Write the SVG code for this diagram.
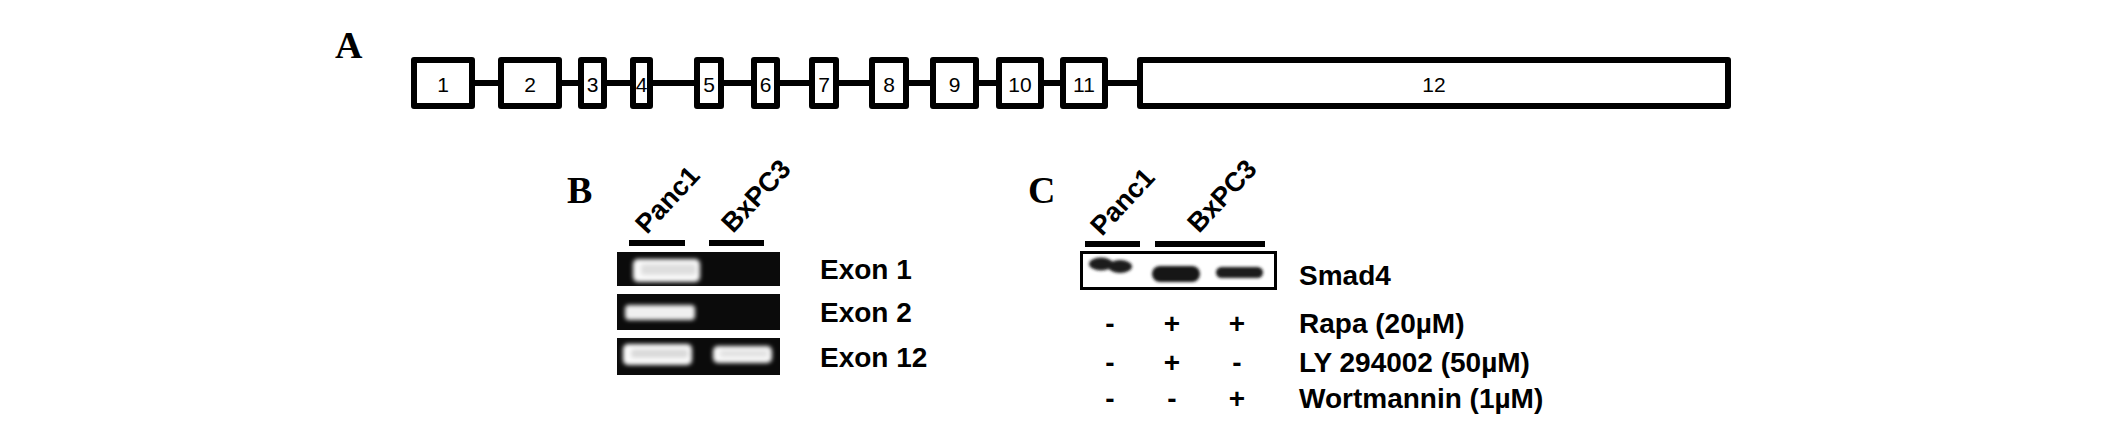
<svg xmlns="http://www.w3.org/2000/svg" width="2126" height="425" viewBox="0 0 2126 425">
<defs>
<style>
.exon{fill:#fff;stroke:#000;stroke-width:6;stroke-linejoin:round}
.intron{stroke:#000;stroke-width:6}
.num{font-family:"Liberation Sans",Arial,sans-serif;font-size:21px;text-anchor:middle;fill:#000}
.panel{font-family:"Liberation Serif","Times New Roman",serif;font-weight:bold;font-size:38px;fill:#000}
.lbl{font-family:"Liberation Sans",Arial,sans-serif;font-weight:bold;font-size:28px;fill:#000}
.rot{font-family:"Liberation Sans",Arial,sans-serif;font-weight:bold;font-size:27px;fill:#000}
.sign{font-family:"Liberation Sans",Arial,sans-serif;font-weight:bold;font-size:28px;fill:#000;text-anchor:middle}
.bar{fill:#000}
.gel{fill:#0b0b0b}
</style>
<filter id="blur" x="-30%" y="-60%" width="160%" height="220%"><feGaussianBlur stdDeviation="2"/></filter>
<filter id="blur2" x="-30%" y="-80%" width="160%" height="260%"><feGaussianBlur stdDeviation="1.8"/></filter>
</defs>
<rect width="2126" height="425" fill="#fff"/>

<g id="panelA">
<text class="panel" x="335" y="58">A</text>
<g id="connectors">
<line class="intron" x1="472" y1="83" x2="501" y2="83"/>
<line class="intron" x1="559" y1="83" x2="581" y2="83"/>
<line class="intron" x1="604" y1="83" x2="633" y2="83"/>
<line class="intron" x1="650" y1="83" x2="697" y2="83"/>
<line class="intron" x1="721" y1="83" x2="754" y2="83"/>
<line class="intron" x1="777" y1="83" x2="812" y2="83"/>
<line class="intron" x1="836" y1="83" x2="872" y2="83"/>
<line class="intron" x1="906" y1="83" x2="933" y2="83"/>
<line class="intron" x1="976" y1="83" x2="999" y2="83"/>
<line class="intron" x1="1041" y1="83" x2="1063" y2="83"/>
<line class="intron" x1="1105" y1="83" x2="1140" y2="83"/>
</g>
<g id="exon1"><rect class="exon" x="414" y="60" width="58" height="46"/><text class="num" x="443" y="92">1</text></g>
<g id="exon2"><rect class="exon" x="501" y="60" width="58" height="46"/><text class="num" x="530" y="92">2</text></g>
<g id="exon3"><rect class="exon" x="581" y="60" width="23" height="46"/><text class="num" x="592.5" y="92">3</text></g>
<g id="exon4"><rect class="exon" x="633" y="60" width="17" height="46"/><text class="num" x="641.5" y="92">4</text></g>
<g id="exon5"><rect class="exon" x="697" y="60" width="24" height="46"/><text class="num" x="709" y="92">5</text></g>
<g id="exon6"><rect class="exon" x="754" y="60" width="23" height="46"/><text class="num" x="765.5" y="92">6</text></g>
<g id="exon7"><rect class="exon" x="812" y="60" width="24" height="46"/><text class="num" x="824" y="92">7</text></g>
<g id="exon8"><rect class="exon" x="872" y="60" width="34" height="46"/><text class="num" x="889" y="92">8</text></g>
<g id="exon9"><rect class="exon" x="933" y="60" width="43" height="46"/><text class="num" x="954.5" y="92">9</text></g>
<g id="exon10"><rect class="exon" x="999" y="60" width="42" height="46"/><text class="num" x="1020" y="92">10</text></g>
<g id="exon11"><rect class="exon" x="1063" y="60" width="42" height="46"/><text class="num" x="1084" y="92">11</text></g>
<g id="exon12"><rect class="exon" x="1140" y="60" width="588" height="46"/><text class="num" x="1434" y="92">12</text></g>
</g>

<g id="panelB">
<text class="panel" x="567" y="203">B</text>
<text class="rot" x="647" y="235" transform="rotate(-47 647 235)">Panc1</text>
<text class="rot" x="733" y="234" transform="rotate(-47 733 234)">BxPC3</text>
<rect class="bar" x="629" y="240" width="56" height="6"/>
<rect class="bar" x="709" y="240" width="55" height="6"/>
<rect class="gel" x="617" y="252" width="163" height="34"/>
<rect class="gel" x="617" y="294" width="163" height="36"/>
<rect class="gel" x="617" y="338" width="163" height="37"/>
<g filter="url(#blur)">
<rect x="633" y="259" width="67" height="23" rx="5" fill="#fafafa"/>
<rect x="641" y="264" width="55" height="11" rx="3" fill="#dedede"/>
<rect x="625" y="305" width="70" height="15" rx="4" fill="#f0f0f0"/>
<rect x="623" y="344" width="69" height="21" rx="5" fill="#fafafa"/>
<rect x="631" y="349" width="57" height="9" rx="3" fill="#dadada"/>
<rect x="713" y="346" width="59" height="17" rx="5" fill="#f8f8f8"/>
<rect x="720" y="350" width="48" height="7" rx="3" fill="#e2e2e2"/>
</g>
<text class="lbl" x="820" y="279">Exon 1</text>
<text class="lbl" x="820" y="322">Exon 2</text>
<text class="lbl" x="820" y="367">Exon 12</text>
</g>

<g id="panelC">
<text class="panel" x="1028" y="203">C</text>
<text class="rot" x="1102" y="237" transform="rotate(-47 1102 237)">Panc1</text>
<text class="rot" x="1199" y="234" transform="rotate(-47 1199 234)">BxPC3</text>
<rect class="bar" x="1085" y="241" width="55" height="6"/>
<rect class="bar" x="1155" y="241" width="110" height="6"/>
<rect x="1081.5" y="252.5" width="194" height="36" fill="#fff" stroke="#000" stroke-width="3"/>
<g filter="url(#blur2)">
<ellipse cx="1101" cy="264" rx="12" ry="6.5" fill="#1a1a1a"/>
<ellipse cx="1120" cy="266.5" rx="12" ry="6.5" fill="#1a1a1a"/>
<rect x="1152" y="266" width="48" height="16" rx="8" fill="#141414"/>
<rect x="1216" y="267" width="47" height="11" rx="5.5" fill="#1c1c1c"/>
</g>
<text class="lbl" x="1299" y="285">Smad4</text>
<text class="lbl" x="1299" y="333">Rapa (20µM)</text>
<text class="lbl" x="1299" y="372">LY 294002 (50µM)</text>
<text class="lbl" x="1299" y="408">Wortmannin (1µM)</text>
<text class="sign" x="1110" y="333">-</text>
<text class="sign" x="1172" y="333">+</text>
<text class="sign" x="1237" y="333">+</text>
<text class="sign" x="1110" y="372">-</text>
<text class="sign" x="1172" y="372">+</text>
<text class="sign" x="1237" y="372">-</text>
<text class="sign" x="1110" y="408">-</text>
<text class="sign" x="1172" y="408">-</text>
<text class="sign" x="1237" y="408">+</text>
</g>
</svg>
